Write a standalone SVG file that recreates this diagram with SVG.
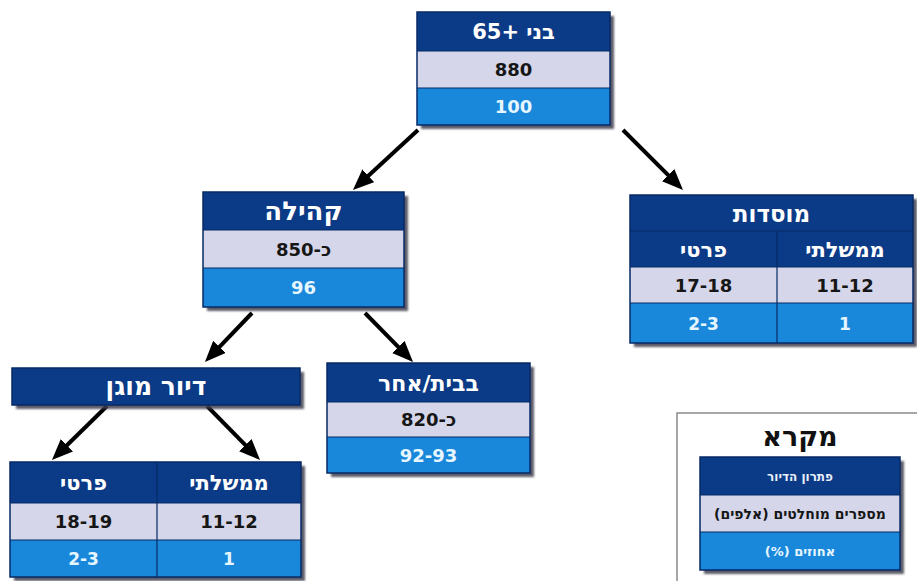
<svg xmlns="http://www.w3.org/2000/svg" width="917" height="581" viewBox="0 0 917 581">
<defs>
<filter id="sh" x="-10%" y="-10%" width="130%" height="130%">
<feDropShadow dx="4" dy="4" stdDeviation="1.2" flood-color="#3f3f50" flood-opacity="0.85"/>
</filter>
<marker id="ah" viewBox="0 0 12 10" markerWidth="21" markerHeight="17.5" refX="6.5" refY="5" orient="auto" markerUnits="userSpaceOnUse">
<path d="M0,0 L12,5 L0,10 z" fill="#000"/>
</marker>
</defs>
<style>
text{font-family:"DejaVu Sans","Liberation Sans",sans-serif;font-weight:bold;text-anchor:middle;direction:rtl}
.hdr{fill:#0b3a86}
.lt{fill:#d5d6ea}
.bl{fill:#1a88da}
.bd{fill:none;stroke:#062a66;stroke-width:1.5}
.sep{stroke:#062a66;stroke-width:1.2}
.th{fill:#ffffff}
.tn{fill:#161616}
.tb{fill:#e6f6ff}
.arr{stroke:#000;stroke-width:4;fill:none;marker-end:url(#ah)}
</style>
<rect width="917" height="581" fill="#ffffff"/>

<g id="connectors">
<line class="arr" x1="418" y1="130" x2="360" y2="183.5"/>
<line class="arr" x1="623" y1="130" x2="676.2" y2="183.2"/>
<line class="arr" x1="252" y1="313" x2="211.6" y2="355.1"/>
<line class="arr" x1="365" y1="313" x2="406.3" y2="355.1"/>
<line class="arr" x1="107" y1="406" x2="58.8" y2="453.3"/>
<line class="arr" x1="207" y1="406" x2="253.3" y2="453.2"/>
</g>

<g id="node-root">
<rect x="417" y="12" width="193" height="113" fill="#0b3a86" filter="url(#sh)"/>
<rect class="hdr" x="417" y="12" width="193" height="39"/>
<rect class="lt" x="417" y="51" width="193" height="37"/>
<rect class="bl" x="417" y="88" width="193" height="37"/>
<line class="sep" x1="417" y1="51" x2="610" y2="51"/>
<line class="sep" x1="417" y1="88" x2="610" y2="88"/>
<rect class="bd" x="417" y="12" width="193" height="113"/>
<text class="th" x="513.5" y="39" font-size="21">בני +65</text>
<text class="tn" x="513.5" y="76" font-size="18">880</text>
<text class="tb" x="513.5" y="113" font-size="18">100</text>
</g>

<g id="node-community">
<rect x="203" y="192" width="201" height="115" fill="#0b3a86" filter="url(#sh)"/>
<rect class="hdr" x="203" y="192" width="201" height="38"/>
<rect class="lt" x="203" y="230" width="201" height="38"/>
<rect class="bl" x="203" y="268" width="201" height="39"/>
<line class="sep" x1="203" y1="230" x2="404" y2="230"/>
<line class="sep" x1="203" y1="268" x2="404" y2="268"/>
<rect class="bd" x="203" y="192" width="201" height="115"/>
<text class="th" x="303.5" y="220" font-size="26">קהילה</text>
<text class="tn" x="303.5" y="255.5" font-size="18">כ-850</text>
<text class="tb" x="303.5" y="294" font-size="18">96</text>
</g>

<g id="node-institutions">
<rect x="630" y="195" width="283" height="148" fill="#0b3a86" filter="url(#sh)"/>
<rect class="hdr" x="630" y="195" width="283" height="72"/>
<rect class="lt" x="630" y="267" width="283" height="36"/>
<rect class="bl" x="630" y="303" width="283" height="40"/>
<line class="sep" x1="630" y1="231" x2="913" y2="231"/>
<line class="sep" x1="630" y1="267" x2="913" y2="267"/>
<line class="sep" x1="630" y1="303" x2="913" y2="303"/>
<line class="sep" x1="777" y1="231" x2="777" y2="343"/>
<rect class="bd" x="630" y="195" width="283" height="148"/>
<text class="th" x="771.5" y="221.5" font-size="23">מוסדות</text>
<text class="th" x="845" y="257" font-size="21">ממשלתי</text>
<text class="th" x="703.5" y="257" font-size="21">פרטי</text>
<text class="tn" x="845" y="291.5" font-size="18">11-12</text>
<text class="tn" x="703.5" y="291.5" font-size="18">17-18</text>
<text class="tb" x="845" y="329.5" font-size="17">1</text>
<text class="tb" x="703.5" y="329.5" font-size="17">2-3</text>
</g>

<g id="node-assisted">
<rect x="12" y="368" width="288" height="37" fill="#0b3a86" filter="url(#sh)"/>
<rect class="hdr" x="12" y="368" width="288" height="37"/>
<rect class="bd" x="12" y="368" width="288" height="37"/>
<text class="th" x="156" y="395" font-size="25">דיור מוגן</text>
</g>

<g id="node-home">
<rect x="327" y="363" width="203" height="110" fill="#0b3a86" filter="url(#sh)"/>
<rect class="hdr" x="327" y="363" width="203" height="39"/>
<rect class="lt" x="327" y="402" width="203" height="35"/>
<rect class="bl" x="327" y="437" width="203" height="36"/>
<line class="sep" x1="327" y1="402" x2="530" y2="402"/>
<line class="sep" x1="327" y1="437" x2="530" y2="437"/>
<rect class="bd" x="327" y="363" width="203" height="110"/>
<text class="th" x="428.5" y="390.5" font-size="22">בבית/אחר</text>
<text class="tn" x="428.5" y="426" font-size="18">כ-820</text>
<text class="tb" x="428.5" y="462" font-size="18">92-93</text>
</g>

<g id="node-assisted-split">
<rect x="10" y="462" width="291" height="115" fill="#0b3a86" filter="url(#sh)"/>
<rect class="hdr" x="10" y="462" width="291" height="41"/>
<rect class="lt" x="10" y="503" width="291" height="37"/>
<rect class="bl" x="10" y="540" width="291" height="37"/>
<line class="sep" x1="10" y1="503" x2="301" y2="503"/>
<line class="sep" x1="10" y1="540" x2="301" y2="540"/>
<line class="sep" x1="157" y1="462" x2="157" y2="577"/>
<rect class="bd" x="10" y="462" width="291" height="115"/>
<text class="th" x="229" y="490" font-size="21">ממשלתי</text>
<text class="th" x="83.5" y="490" font-size="21">פרטי</text>
<text class="tn" x="229" y="528" font-size="18">11-12</text>
<text class="tn" x="83.5" y="528" font-size="18">18-19</text>
<text class="tb" x="229" y="565" font-size="17">1</text>
<text class="tb" x="83.5" y="565" font-size="17">2-3</text>
</g>

<g id="legend">
<rect x="677" y="413" width="260" height="200" fill="#ffffff" stroke="#8a8a8a" stroke-width="1.5"/>
<text x="800" y="446" font-size="27" fill="#111">מקרא</text>
<rect x="700" y="457" width="200" height="113" fill="#0b3a86" filter="url(#sh)"/>
<rect class="hdr" x="700" y="457" width="200" height="38"/>
<rect class="lt" x="700" y="495" width="200" height="37"/>
<rect class="bl" x="700" y="532" width="200" height="38"/>
<line class="sep" x1="700" y1="495" x2="900" y2="495"/>
<line class="sep" x1="700" y1="532" x2="900" y2="532"/>
<rect class="bd" x="700" y="457" width="200" height="113"/>
<text x="800" y="480.5" font-size="12" fill="#e8eefa" font-weight="normal">פתרון הדיור</text>
<text x="800" y="518.5" font-size="14" fill="#161616" font-weight="normal">מספרים מוחלטים (אלפים)</text>
<text x="800" y="555.5" font-size="13" fill="#e6f6ff" font-weight="normal">אחוזים (%)</text>
</g>
</svg>
